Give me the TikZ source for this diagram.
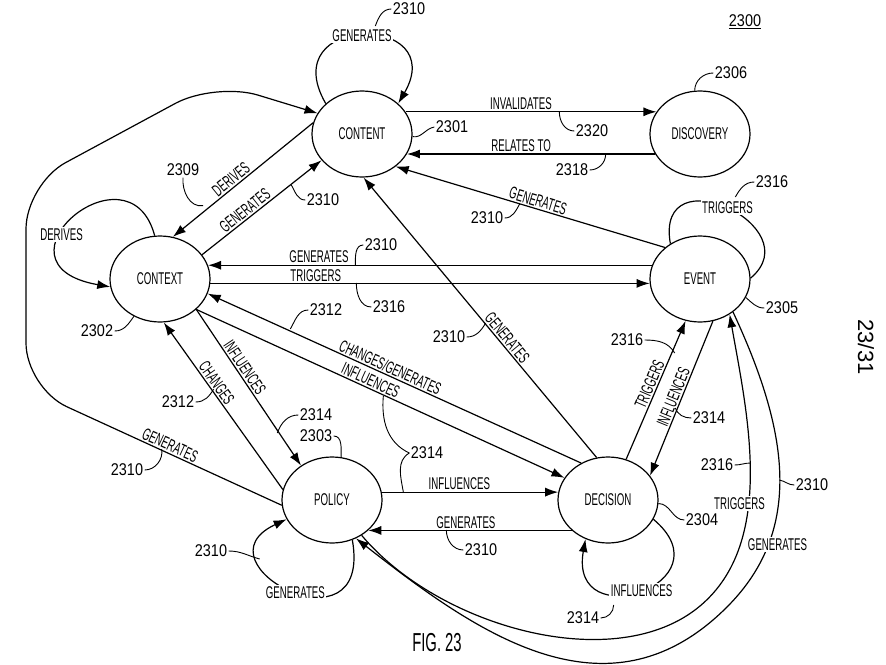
\documentclass[tikz,border=0pt]{standalone}
\usepackage{fontspec}
\setmainfont{Liberation Sans}[FakeStretch=0.57]
\newfontfamily\numfont{Liberation Sans}[FakeStretch=0.85]
\newfontfamily\sheetfont{Liberation Sans}
\usetikzlibrary{shapes.geometric,arrows.meta}

\begin{document}
\begin{tikzpicture}[x=1pt,y=1pt,line width=1.2pt,font=\fontsize{17}{19}\selectfont,
        st/.style={ellipse,draw,minimum width=100pt,minimum height=86pt,inner sep=0pt},
        lbl/.style={inner sep=1.5pt},
        gap/.style={fill=white,inner sep=1.5pt},
        num/.style={font=\fontsize{17}{19}\numfont,inner sep=1pt},
        lead/.style={line width=0.9pt},
        arr/.style={-{Latex[length=13pt,width=9pt]}}]
        \useasboundingbox (0,0) rectangle (886,-664);
        % states
        \node[st] (CONT) at (362,-134){CONTENT};
        \node[st] (DISC) at (700,-134){DISCOVERY};
        \node[st] (CTX) at (160,-279){CONTEXT};
        \node[st] (EVT) at (700,-279){EVENT};
        \node[st] (POL) at (332,-500){POLICY};
        \node[st] (DEC) at (608,-500){DECISION};
        % straight relations
        \draw[arr] (CONT.27) --node[lbl,above,pos=0.46]{INVALIDATES} (DISC.153);
        \draw[arr] (DISC.-156) --node[lbl,above,pos=0.54]{RELATES TO} (CONT.-24);
        \draw[arr] (CONT.167) --node[lbl,sloped,above,pos=0.55]{DERIVES} (CTX.73);
        \draw[arr] (CTX.30) --node[lbl,sloped,above,pos=0.4]{GENERATES} (CONT.-147);
        \draw[arr] (EVT.164) --node[lbl,above,pos=0.75]{GENERATES} (CTX.16);
        \draw[arr] (CTX.-5) --node[lbl,above,pos=0.24]{TRIGGERS} (EVT.-175);
        \draw[arr] (DEC.126) --node[lbl,sloped,above,pos=0.52]{CHANGES/GENERATES} (CTX.-17);
        \draw[arr] (CTX.-40) --node[lbl,sloped,above,pos=0.465]{INFLUENCES} (DEC.153);
        \draw[arr] (CTX.-40) --node[lbl,sloped,above,pos=0.4]{INFLUENCES} (POL.132);
        \draw[arr] (POL.168) --node[lbl,sloped,above,pos=0.61]{CHANGES} (CTX.-85);
        \draw[arr] (POL.9) --node[lbl,above,pos=0.44]{INFLUENCES} (DEC.171);
        \draw[arr] (DEC.-140) --node[lbl,above,pos=0.52]{GENERATES} (POL.-40);
        \draw[arr] (DEC.105) --node[lbl,sloped,above,pos=0.41]{GENERATES} (CONT.-88);
        \draw[arr] (EVT.138) --node[lbl,sloped,above,pos=0.48]{GENERATES} (CONT.-44);
        \draw[arr] (DEC.66) --node[lbl,sloped,above,pos=0.52]{TRIGGERS} (EVT.-109);
        \draw[arr] (EVT.-73) --node[lbl,sloped,above,pos=0.51]{INFLUENCES} (DEC.30);
        % loops
        \draw[arr] (CONT.140) to[out=120,in=60,out distance=105pt,in distance=105pt] node[gap]{GENERATES} (CONT.40);
        \draw[arr] (CTX.97) to[out=105,in=170,out distance=100pt,in distance=130pt] node[gap,pos=0.62]{DERIVES} (CTX.-171);
        \draw[arr] (POL.-63) to[out=-80,in=205,out distance=120pt,in distance=105pt] node[gap,pos=0.48]{GENERATES} (POL.-157);
        \draw[arr] (DEC.-23) to[out=-40,in=260,out distance=100pt,in distance=100pt] node[gap]{INFLUENCES} (DEC.-120);
        \draw (EVT.130) to[out=100,in=40,out distance=92pt,in distance=80pt] node[gap]{TRIGGERS} (EVT.1);
        % long ways round
        \draw[arr,rounded corners=45pt] (POL.-174) --node[lbl,sloped,above,pos=0.45]{GENERATES} (26,-388) -- (26,-184) -- (215,-82) -- (CONT.155);
        \draw[arr] (POL.-50) to[out=-50,in=220,out distance=120pt,in distance=110pt] (700,-606)
            to[out=40,in=-80,out distance=100pt,in distance=100pt] node[gap,pos=0.4,xshift=-9pt]{TRIGGERS} (EVT.-50);
        \draw[arr] (EVT.-45) to[out=-65,in=45,out distance=130pt,in distance=110pt] node[gap,pos=0.75,xshift=9pt]{GENERATES} (727,-607)
            to[out=225,in=-38,out distance=170pt,in distance=150pt] (POL.-58);
        % reference numerals
        \node[num] (n2300) at (745,-22){\underline{2300}};
        \node[num] (n2306) at (731,-73){2306};
        \draw[lead] (n2306.west) to[out=180,in=90] (DISC.97);
        \node[num] (n2301) at (452,-127){2301};
        \draw[lead] (CONT.-3) to[out=-10,in=190] (n2301.west);
        \node[num] (n2310a) at (409,-9){2310};
        \draw[lead] (n2310a.west) to[out=180,in=70] +(-16,-17);
        \node[num] (n2320) at (592,-131){2320};
        \draw[lead] (n2320.west) to[out=180,in=-90] +(-15,19);
        \node[num] (n2318) at (572,-170){2318};
        \draw[lead] (n2318.east) to[out=0,in=-90] +(16,16);
        \node[num] (n2309) at (183,-170){2309};
        \draw[lead] (n2309.south) to[out=-95,in=190] +(20,-28);
        \node[num] (n2310b) at (323,-200){2310};
        \draw[lead] (n2310b.west) to[out=180,in=-60] +(-14,15);
        \node[num] (n2302) at (97,-331){2302};
        \draw[lead] (n2302.east) to[out=0,in=235] (CTX.-125);
        \node[num] (n2310c) at (381,-245){2310};
        \draw[lead] (n2310c.west) to[out=180,in=90] +(-8,-20);
        \node[num] (n2316a) at (389,-307){2316};
        \draw[lead] (n2316a.west) to[out=180,in=-90] +(-15,24);
        \node[num] (n2312a) at (326,-310){2312};
        \draw[lead] (n2312a.west) to[out=180,in=60] +(-18,-19);
        \node[num] (n2310d) at (449,-337){2310};
        \draw[lead] (n2310d.east) to[out=0,in=240] +(19,14);
        \node[num] (n2310e) at (487,-218){2310};
        \draw[lead] (n2310e.east) to[out=0,in=240] +(15,14);
        \node[num] (n2316b) at (772,-182){2316};
        \draw[lead] (n2316b.west) to[out=180,in=60] +(-19,-15);
        \node[num] (n2305) at (782,-308){2305};
        \draw[lead] (EVT.-22) to[out=-40,in=180] (n2305.west);
        \node[num] (n2316c) at (627,-340){2316};
        \draw[lead] (n2316c.east) to[out=0,in=120] +(30,-13);
        \node[num] (n2314a) at (709,-418){2314};
        \draw[lead] (n2314a.west) to[out=180,in=-70] +(-16,10);
        \node[num] (n2314b) at (316,-415){2314};
        \draw[lead] (n2314b.west) to[out=180,in=70] +(-21,-18);
        \node[num] (n2303) at (316,-436){2303};
        \draw[lead] (n2303.east) to[out=0,in=90] (POL.78);
        \node[num] (n2314c) at (427,-453){2314};
        \draw[lead] (n2314c.west) to[out=155,in=-95] +(-26,57);
        \draw[lead] (n2314c.west) to[out=-150,in=100] +(-6,-39);
        \node[num] (n2310f) at (481,-550){2310};
        \draw[lead] (n2310f.west) to[out=180,in=-90] +(-17,20);
        \node[num] (n2310g) at (211,-551){2310};
        \draw[lead] (n2310g.east) to[out=0,in=165] +(31,-8);
        \node[num] (n2310h) at (127,-470){2310};
        \draw[lead] (n2310h.east) to[out=0,in=-80] +(17,21);
        \node[num] (n2312b) at (178,-402){2312};
        \draw[lead] (n2312b.east) to[out=0,in=-120] +(18,13);
        \node[num] (n2304) at (702,-520){2304};
        \draw[lead] (DEC.-4) to[out=0,in=180] (n2304.west);
        \node[num] (n2314d) at (583,-618){2314};
        \draw[lead] (n2314d.east) to[out=0,in=-90] +(13,13);
        \node[num] (n2316d) at (717,-465){2316};
        \draw[lead] (n2316d.east) to[out=0,in=180] +(16,2);
        \node[num] (n2310i) at (812,-485){2310};
        \draw[lead] (n2310i.west) to[out=180,in=-10] +(-15,5);
        % sheet marks
        \node[font=\fontsize{26}{28}\selectfont] (fig) at (437,-643){FIG. 23};
        \node[font=\fontsize{22}{24}\sheetfont,rotate=-90] (sheet) at (866,-347){23/31};
    \end{tikzpicture}
\end{document}
